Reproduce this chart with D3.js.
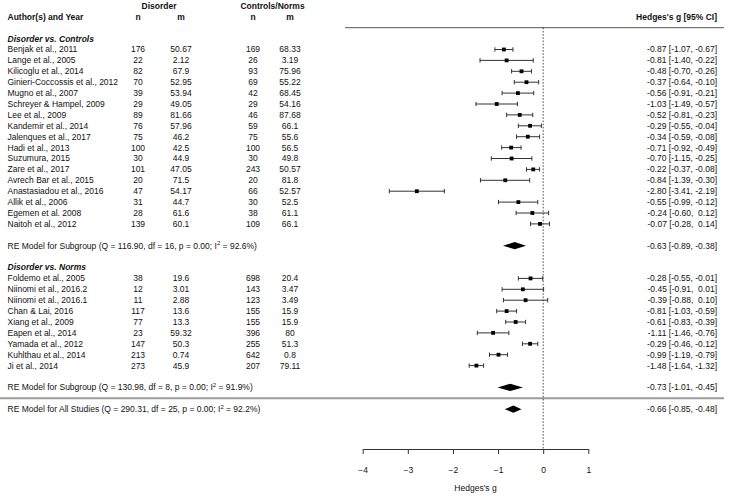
<!DOCTYPE html>
<html>
<head>
<meta charset="utf-8">
<script src="https://cdn.jsdelivr.net/npm/d3@7"></script>
<style>
  html, body { margin: 0; padding: 0; background: #fff; }
  svg text { font-family: "Liberation Sans", Arial, sans-serif; fill: #111; white-space: pre; }
</style>
</head>
<body>
<svg id="chart" width="730" height="496"></svg>
<script>
// ---------------- data ----------------
const groupTitles = ["Disorder vs. Controls", "Disorder vs. Norms"];

const authors1 = ["Benjak et al., 2011","Lange et al., 2005","Kilicoglu et al., 2014","Ginieri-Coccossis et al., 2012","Mugno et al., 2007","Schreyer & Hampel, 2009","Lee et al., 2009","Kandemir et al., 2014","Jalenques et al., 2017","Hadi et al., 2013","Suzumura, 2015","Zare et al., 2017","Avrech Bar et al., 2015","Anastasiadou et al., 2016","Allik et al., 2006","Egemen et al. 2008","Naitoh et al., 2012"];
const disN1 = [176,22,82,70,39,29,89,76,75,100,30,101,20,47,31,28,139];
const disM1 = [50.67,2.12,67.9,52.95,53.94,49.05,81.66,57.96,46.2,42.5,44.9,47.05,71.5,54.17,44.7,61.6,60.1];
const conN1 = [169,26,93,69,42,29,46,59,75,100,30,243,20,66,30,38,109];
const conM1 = [68.33,3.19,75.96,55.22,68.45,54.16,87.68,66.1,55.6,56.5,49.8,50.57,81.8,52.57,52.5,61.1,66.1];
const g1  = [-0.87,-0.81,-0.48,-0.37,-0.56,-1.03,-0.52,-0.29,-0.34,-0.71,-0.70,-0.22,-0.84,-2.80,-0.55,-0.24,-0.07];
const lo1 = [-1.07,-1.40,-0.70,-0.64,-0.91,-1.49,-0.81,-0.55,-0.59,-0.92,-1.15,-0.37,-1.39,-3.41,-0.99,-0.60,-0.28];
const hi1 = [-0.67,-0.22,-0.26,-0.10,-0.21,-0.57,-0.23,-0.04,-0.08,-0.49,-0.25,-0.08,-0.30,-2.19,-0.12,0.12,0.14];

const authors2 = ["Foldemo et al., 2005","Niinomi et al., 2016.2","Niinomi et al., 2016.1","Chan & Lai, 2016","Xiang et al., 2009","Eapen et al., 2014","Yamada et al., 2012","Kuhlthau et al., 2014","Ji et al., 2014"];
const disN2 = [38,12,11,117,77,23,147,213,273];
const disM2 = [19.6,3.01,2.88,13.6,13.3,59.32,50.3,0.74,45.9];
const conN2 = [698,143,123,155,155,396,255,642,207];
const conM2 = [20.4,3.47,3.49,15.9,15.9,80,51.3,0.8,79.11];
const g2  = [-0.28,-0.45,-0.39,-0.81,-0.61,-1.11,-0.29,-0.99,-1.48];
const lo2 = [-0.55,-0.91,-0.88,-1.03,-0.83,-1.46,-0.46,-1.19,-1.64];
const hi2 = [-0.01,0.01,0.10,-0.59,-0.39,-0.76,-0.12,-0.79,-1.32];

const summaryLabels = ["RE Model for Subgroup (Q = 116.90, df = 16, p = 0.00; I", "RE Model for Subgroup (Q = 130.98, df = 8, p = 0.00; I", "RE Model for All Studies (Q = 290.31, df = 25, p = 0.00; I"];
const summaryI2 = [" = 92.6%)", " = 91.9%)", " = 92.2%)"];
const summaryG  = [-0.63, -0.73, -0.66];
const summaryLo = [-0.89, -1.01, -0.85];
const summaryHi = [-0.38, -0.45, -0.48];

const xTicks = [-4, -3, -2, -1, 0, 1];

// ---------------- layout ----------------
const svg = d3.select("#chart");
const FS = 8.5;
const x = d3.scaleLinear().domain([-4, 1]).range([362.7, 588.3]);
const y = d3.scaleLinear().domain([0, 1]).range([49.5, 60.4]); // row index -> pixel

const colAuthor = 7.5, colDN = 138, colDM = 181, colCN = 253, colCM = 290, colRight = 717;

function fmt(v) { return (v < 0 ? "" : " ") + v.toFixed(2); }
function ciText(g, l, h) { return fmt(g) + " [" + fmt(l) + ", " + fmt(h) + "]"; }

function txt(xp, row, s, anchor, weight, style) {
  return svg.append("text")
    .attr("x", xp).attr("y", y(row)).attr("dy", "0.35em")
    .attr("text-anchor", anchor || "start")
    .attr("font-size", FS)
    .attr("font-weight", weight || "normal")
    .attr("font-style", style || "normal")
    .attr("xml:space", "preserve")
    .text(s);
}

// build rows
const studies = [];
authors1.forEach((a, i) => studies.push({row: i, a, dn: disN1[i], dm: disM1[i], cn: conN1[i], cm: conM1[i], g: g1[i], lo: lo1[i], hi: hi1[i]}));
authors2.forEach((a, i) => studies.push({row: 21 + i, a, dn: disN2[i], dm: disM2[i], cn: conN2[i], cm: conM2[i], g: g2[i], lo: lo2[i], hi: hi2[i]}));
const summaryRows = [18, 31, 33];

// lines
svg.append("line").attr("x1", 345).attr("x2", 724).attr("y1", y(-2)).attr("y2", y(-2))
  .attr("stroke", "#555").attr("stroke-width", 1);
svg.append("line").attr("x1", 0).attr("x2", 724).attr("y1", y(32)).attr("y2", y(32))
  .attr("stroke", "#9a9a9a").attr("stroke-width", 2);
svg.append("line").attr("x1", x(0)).attr("x2", x(0)).attr("y1", y(-2)).attr("y2", 449)
  .attr("stroke", "#222").attr("stroke-width", 0.8).attr("stroke-dasharray", "1.6,1.6");

// headers
txt((colDN + colDM) / 2 - 0.5, -4, "Disorder", "middle", "bold");
txt((colCN + colCM) / 2 + 1, -4, "Controls/Norms", "middle", "bold");
txt(colAuthor, -3, "Author(s) and Year", "start", "bold");
txt(colDN, -3, "n", "middle", "bold");
txt(colDM, -3, "m", "middle", "bold");
txt(colCN, -3, "n", "middle", "bold");
txt(colCM, -3, "m", "middle", "bold");
txt(colRight, -3, "Hedges's g [95% CI]", "end", "bold");

txt(colAuthor, -1, groupTitles[0], "start", "bold", "italic");
txt(colAuthor, 20, groupTitles[1], "start", "bold", "italic");

// study rows
studies.forEach(d => {
  txt(colAuthor, d.row, d.a);
  txt(colDN, d.row, String(d.dn), "middle");
  txt(colDM, d.row, String(d.dm), "middle");
  txt(colCN, d.row, String(d.cn), "middle");
  txt(colCM, d.row, String(d.cm), "middle");
  txt(colRight, d.row, ciText(d.g, d.lo, d.hi), "end");
  const yy = y(d.row);
  const ci = svg.append("g").attr("stroke", "#333").attr("stroke-width", 1);
  ci.append("line").attr("x1", x(d.lo)).attr("x2", x(d.hi)).attr("y1", yy).attr("y2", yy);
  ci.append("line").attr("x1", x(d.lo)).attr("x2", x(d.lo)).attr("y1", yy - 2.2).attr("y2", yy + 2.2);
  ci.append("line").attr("x1", x(d.hi)).attr("x2", x(d.hi)).attr("y1", yy - 2.2).attr("y2", yy + 2.2);
  const s = 3.8;
  svg.append("rect").attr("x", x(d.g) - s / 2).attr("y", yy - s / 2).attr("width", s).attr("height", s).attr("fill", "#000");
});

// summaries
summaryRows.forEach((r, i) => {
  const t = txt(colAuthor, r, summaryLabels[i]);
  t.append("tspan").attr("font-size", FS * 0.7).attr("dy", "-0.55em").text("2");
  t.append("tspan").attr("dy", "0.38em").text(summaryI2[i]);
  txt(colRight, r, ciText(summaryG[i], summaryLo[i], summaryHi[i]), "end");
  const yy = y(r), h = 3.6;
  const pts = [[x(summaryLo[i]), yy], [x(summaryG[i]), yy - h], [x(summaryHi[i]), yy], [x(summaryG[i]), yy + h]];
  svg.append("polygon").attr("points", pts.map(p => p.join(",")).join(" ")).attr("fill", "#000");
});

// axis
const axis = d3.axisBottom(x).tickValues(xTicks).tickSize(5).tickSizeOuter(0).tickPadding(13).tickFormat(d3.format("d"));
const ag = svg.append("g").attr("transform", "translate(0,449)").call(axis);
ag.select(".domain").attr("stroke", "#333");
ag.selectAll(".tick line").attr("stroke", "#333");
ag.selectAll(".tick text").attr("font-size", FS).attr("fill", "#111")
  .attr("font-family", "Liberation Sans, Arial, sans-serif").attr("dy", "0.71em");
svg.append("text").attr("x", (x(-4) + x(1)) / 2).attr("y", 488).attr("dy", "0.35em")
  .attr("text-anchor", "middle").attr("font-size", FS).text("Hedges's g");
</script>
</body>
</html>
